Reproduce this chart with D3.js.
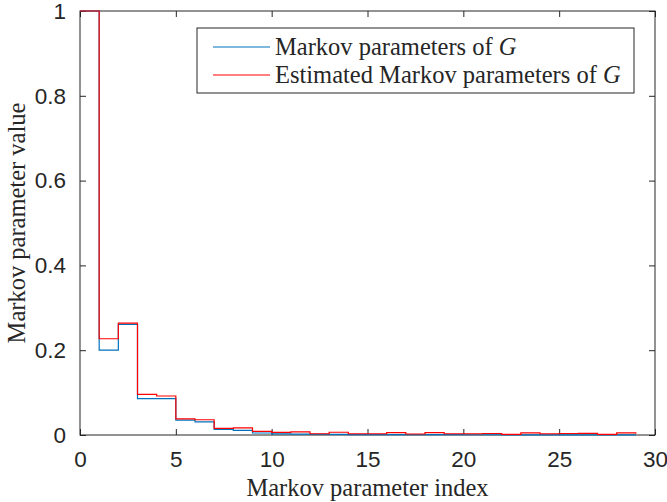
<!DOCTYPE html>
<html>
<head>
<meta charset="utf-8">
<script src="https://cdn.jsdelivr.net/npm/d3@7"></script>
<style>
  body { margin: 0; background: #fff; }
  .tick text { font-family: "Liberation Sans", Arial, sans-serif; font-size: 22.5px; fill: #262626; }
  .lab { font-family: "Liberation Serif", "Times New Roman", serif; font-size: 24.5px; fill: #262626; }
</style>
</head>
<body>
<svg id="chart" width="667" height="502"></svg>
<script>
// index of Markov parameter
var idx = d3.range(0, 30);
var trueVals = [1, 0.2, 0.261, 0.086, 0.086, 0.035, 0.031, 0.0135, 0.011, 0.0047,
  0.0025, 0.002, 0.0015, 0.0015, 0.001, 0.001, 0.001, 0.0008, 0.0008, 0.0007,
  0.0006, 0.0006, 0.0005, 0.0005, 0.0004, 0.0004, 0.0003, 0.0003, 0.0003, 0.0003];
var estVals = [1, 0.227, 0.264, 0.096, 0.092, 0.038, 0.036, 0.0155, 0.017, 0.0085,
  0.0064, 0.0075, 0.003, 0.0065, 0.003, 0.003, 0.0055, 0.0024, 0.0055, 0.003,
  0.003, 0.0035, 0.0016, 0.0048, 0.003, 0.0035, 0.004, 0.0016, 0.0048, 0.003];
var xTicks = [0, 5, 10, 15, 20, 25, 30];
var yTicks = [0, 0.2, 0.4, 0.6, 0.8, 1];
var seriesNames = ["Markov parameters of ", "Estimated Markov parameters of "];

var svg = d3.select("#chart");
var mLeft = 80, mRight = 655, mTop = 11, mBottom = 435;

var x = d3.scaleLinear().domain([0, 30]).range([mLeft, mRight]);
var y = d3.scaleLinear().domain([0, 1]).range([mBottom, mTop]);

var line = d3.line()
    .x(function(d) { return x(d[0]); })
    .y(function(d) { return y(d[1]); })
    .curve(d3.curveStepAfter);

// axes, ticks inside like matlab
svg.append("g")
    .attr("transform", "translate(0," + mBottom + ")")
    .call(d3.axisBottom(x).tickValues(xTicks).tickSizeInner(-6).tickSizeOuter(0).tickPadding(16)
      .tickFormat(d3.format("d")));
svg.append("g")
    .attr("transform", "translate(0," + mTop + ")")
    .call(d3.axisTop(x).tickValues(xTicks).tickSizeInner(-6).tickSizeOuter(0).tickFormat(""));
svg.append("g")
    .attr("transform", "translate(" + mLeft + ",0)")
    .call(d3.axisLeft(y).tickValues(yTicks).tickSizeInner(-6).tickSizeOuter(0).tickPadding(14)
      .tickFormat(function(d) { return d === 0 || d === 1 ? d : d3.format(".1f")(d); }));
svg.append("g")
    .attr("transform", "translate(" + mRight + ",0)")
    .call(d3.axisRight(y).tickValues(yTicks).tickSizeInner(-6).tickSizeOuter(0).tickFormat(""));

svg.selectAll(".domain").remove();
svg.selectAll(".tick line").attr("stroke", "#262626");

svg.append("rect")
    .attr("x", mLeft).attr("y", mTop)
    .attr("width", mRight - mLeft).attr("height", mBottom - mTop)
    .attr("fill", "none").attr("stroke", "#262626").attr("stroke-width", 1);

// stairs
svg.append("path")
    .datum(idx.map(function(i) { return [i, trueVals[i]]; }))
    .attr("fill", "none").attr("stroke", "#0072BD").attr("stroke-width", 1.2)
    .attr("d", line);
svg.append("path")
    .datum(idx.map(function(i) { return [i, estVals[i]]; }))
    .attr("fill", "none").attr("stroke", "#FF0000").attr("stroke-width", 1.2)
    .attr("d", line);

// labels
svg.append("text").attr("class", "lab")
    .attr("x", (mLeft + mRight) / 2).attr("y", 496)
    .attr("text-anchor", "middle")
    .text("Markov parameter index");
svg.append("text").attr("class", "lab")
    .attr("transform", "translate(25," + ((mTop + mBottom) / 2) + ") rotate(-90)")
    .attr("text-anchor", "middle")
    .text("Markov parameter value");

// legend
var lg = svg.append("g");
lg.append("rect")
    .attr("x", 197).attr("y", 28).attr("width", 437).attr("height", 65)
    .attr("fill", "#fff").attr("stroke", "#262626").attr("stroke-width", 1);
var colors = ["#0072BD", "#FF0000"];
seriesNames.forEach(function(name, i) {
  var ly = 47 + i * 28;
  lg.append("line")
      .attr("x1", 213).attr("x2", 270).attr("y1", ly).attr("y2", ly)
      .attr("stroke", colors[i]).attr("stroke-width", 1.2);
  var t = lg.append("text").attr("class", "lab")
      .attr("x", 275).attr("y", ly + 8);
  t.append("tspan").text(name);
  t.append("tspan").attr("font-style", "italic").text("G");
});
</script>
</body>
</html>
